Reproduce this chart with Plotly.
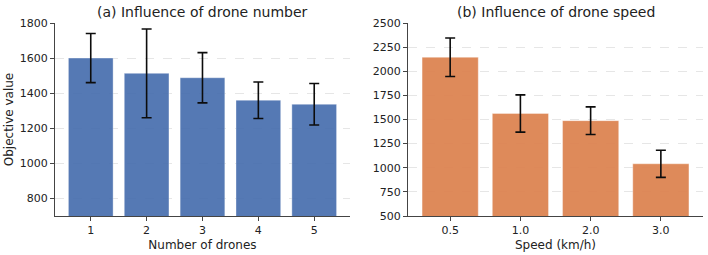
import plotly.graph_objects as go
from plotly.subplots import make_subplots

drone_numbers = ["1", "2", "3", "4", "5"]
drone_values = [1600, 1513, 1488, 1360, 1337]
drone_errors = [140, 253, 143, 104, 118]

speeds = ["0.5", "1.0", "2.0", "3.0"]
speed_values = [2145, 1562, 1488, 1041]
speed_errors = [200, 193, 143, 141]

FONT = "DejaVu Sans"

fig = make_subplots(rows=1, cols=2, horizontal_spacing=0.0896)

fig.add_trace(go.Bar(
    x=drone_numbers, y=drone_values, width=0.8,
    marker=dict(color="#4C72B0", line=dict(color="rgba(255,255,255,0.6)", width=0.6)),
    opacity=0.95,
    error_y=dict(type="data", array=drone_errors, color="black", thickness=1.6, width=5),
    showlegend=False), row=1, col=1)

fig.add_trace(go.Bar(
    x=speeds, y=speed_values, width=0.8,
    marker=dict(color="#DD8452", line=dict(color="rgba(255,255,255,0.6)", width=0.6)),
    opacity=0.95,
    error_y=dict(type="data", array=speed_errors, color="black", thickness=1.6, width=5),
    showlegend=False), row=1, col=2)

axis_common = dict(showline=True, linecolor="#444444", linewidth=1, ticks="outside",
                   ticklen=4, tickcolor="#444444", tickfont=dict(family=FONT, size=11, color="#222222"),
                   zeroline=False)

fig.update_xaxes(**axis_common, showgrid=False)
fig.update_yaxes(**axis_common, showgrid=True, gridcolor="rgba(200,200,200,0.45)", griddash="dash", gridwidth=0.8)

fig.update_xaxes(range=[-0.64, 4.64], title=dict(text="Number of drones", font=dict(family=FONT, size=12, color="#222222"), standoff=4), row=1, col=1)
fig.update_xaxes(range=[-0.6, 3.6], title=dict(text="Speed (km/h)", font=dict(family=FONT, size=12, color="#222222"), standoff=4), row=1, col=2)
fig.update_yaxes(range=[700, 1800], tickvals=[800, 1000, 1200, 1400, 1600, 1800],
                 title=dict(text="Objective value", font=dict(family=FONT, size=12, color="#222222"), standoff=3), row=1, col=1)
fig.update_yaxes(range=[500, 2500], tickvals=[500, 750, 1000, 1250, 1500, 1750, 2000, 2250, 2500], row=1, col=2)

fig.update_layout(
    width=708, height=255,
    margin=dict(l=55, r=5, t=23, b=39),
    plot_bgcolor="white", paper_bgcolor="white",
    font=dict(family=FONT),
    bargap=0.2,
    annotations=[
        dict(text="(a) Influence of drone number", x=0.2276, y=1.0, xref="paper", yref="paper",
             xanchor="center", yanchor="bottom", yshift=1, showarrow=False,
             font=dict(family=FONT, size=14, color="#222222")),
        dict(text="(b) Influence of drone speed", x=0.7724, y=1.0, xref="paper", yref="paper",
             xanchor="center", yanchor="bottom", yshift=1, showarrow=False,
             font=dict(family=FONT, size=14, color="#222222")),
    ],
)

fig.write_html("out.html")
